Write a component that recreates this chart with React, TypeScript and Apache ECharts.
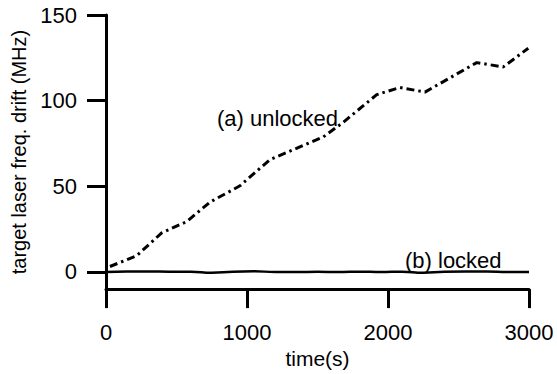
import React, { useEffect, useRef } from "react";
import * as echarts from "echarts";

const unlockedTime = [28, 218, 395, 572, 738, 950, 1163, 1541, 1683, 1920, 2085, 2262, 2629, 2818, 2995];
const unlockedDrift = [3.2, 9.5, 22.8, 29.4, 40.8, 50.3, 65.6, 78.8, 87.4, 103.5, 107.7, 105, 122.2, 119.7, 130.6];

const lockedTime = [0, 150, 300, 450, 600, 750, 900, 1050, 1200, 1350, 1500, 1650, 1800, 1950, 2100, 2250, 2400, 2550, 2700, 2850, 3000];
const lockedDrift = [0, 0.3, 0.3, 0.2, 0.2, -0.4, 0.2, 0.4, 0, 0, 0.1, 0, 0.2, 0, 0.2, -0.4, 0.2, 0.3, 0.3, 0, 0];

const yTicks = [0, 50, 100, 150];

const FONT = "'Liberation Sans', Arial, Helvetica, sans-serif";
const FS = 22;

export default function App() {
  const ref = useRef<HTMLDivElement>(null);
  useEffect(() => {
    if (!ref.current) return;
    const chart = echarts.init(ref.current, undefined, { renderer: "svg" });
    chart.setOption({
      animation: false,
      backgroundColor: "#fff",
      textStyle: { fontFamily: FONT },
      grid: { left: 106, right: 28, top: 15, bottom: 78, containLabel: false },
      xAxis: {
        type: "value",
        min: 0,
        max: 3000,
        interval: 1000,
        name: "time(s)",
        nameLocation: "middle",
        nameGap: 57,
        nameTextStyle: { fontSize: 21, color: "#000", fontFamily: FONT },
        axisLine: { show: true, onZero: false, lineStyle: { color: "#000", width: 3 } },
        axisTick: { show: true, inside: false, length: 19, lineStyle: { color: "#000", width: 3 } },
        axisLabel: {
          show: true,
          margin: 32,
          fontSize: FS,
          color: "#000",
          fontFamily: FONT,
          formatter: (v: number) => String(v),
        },
        splitLine: { show: false },
      },
      yAxis: {
        type: "value",
        min: -10,
        max: 150,
        name: "target laser freq. drift (MHz)",
        nameLocation: "middle",
        nameGap: 74,
        nameTextStyle: { fontSize: 20, color: "#000", fontFamily: FONT },
        axisLine: { show: true, onZero: false, lineStyle: { color: "#000", width: 3 } },
        axisTick: { show: true, inside: false, length: 19, lineStyle: { color: "#000", width: 3 }, customValues: yTicks },
        axisLabel: {
          show: true,
          margin: 29,
          fontSize: FS,
          color: "#000",
          fontFamily: FONT,
          customValues: yTicks,
          formatter: (v: number) => String(v),
        },
        splitLine: { show: false },
      },
      series: [
        {
          type: "line",
          name: "(a) unlocked",
          data: unlockedTime.map((t, i) => [t, unlockedDrift[i]]),
          showSymbol: false,
          symbol: "none",
          lineStyle: { color: "#000", width: 3, type: [8, 4, 2.5, 4] },
        },
        {
          type: "line",
          name: "(b) locked",
          data: lockedTime.map((t, i) => [t, lockedDrift[i]]),
          showSymbol: false,
          symbol: "none",
          smooth: true,
          lineStyle: { color: "#000", width: 2.5 },
        },
      ],
      graphic: [
        { type: "text", left: 217, top: 107, style: { text: "(a) unlocked", fontSize: FS, fill: "#000", fontFamily: FONT } },
        { type: "text", left: 405, top: 249, style: { text: "(b) locked", fontSize: FS, fill: "#000", fontFamily: FONT } },
      ],
    });
    return () => chart.dispose();
  }, []);
  return <div ref={ref} style={{ position: "fixed", left: 0, top: 0, width: 557, height: 374 }} />;
}
